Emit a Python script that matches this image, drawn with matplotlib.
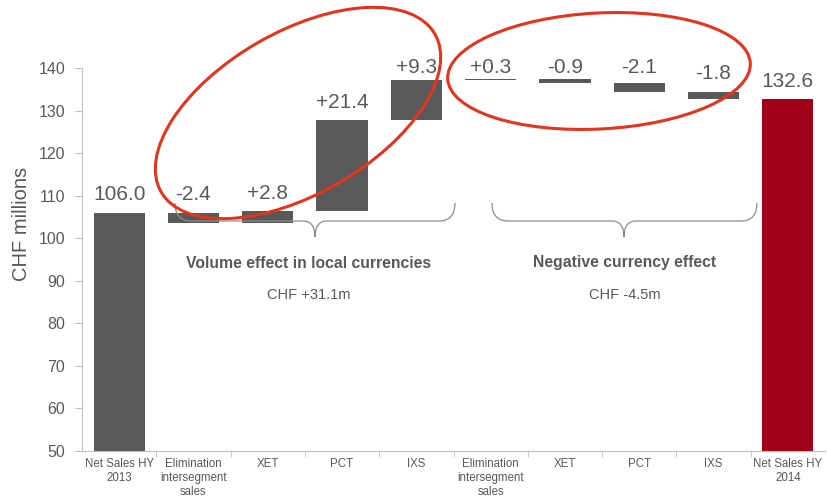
import matplotlib
matplotlib.use("Agg")
import matplotlib.pyplot as plt
import numpy as np
from matplotlib.patches import Ellipse, PathPatch
from matplotlib.path import Path

plt.rcParams['font.family'] = ['Liberation Sans', 'DejaVu Sans']

categories = ["Net Sales HY\n2013", "Elimination\nintersegment\nsales", "XET", "PCT", "IXS",
              "Elimination\nintersegment\nsales", "XET", "PCT", "IXS", "Net Sales HY\n2014"]
changes = [106.0, -2.4, 2.8, 21.4, 9.3, 0.3, -0.9, -2.1, -1.8, 132.6]
value_labels = ["106.0", "-2.4", "+2.8", "+21.4", "+9.3", "+0.3", "-0.9", "-2.1", "-1.8", "132.6"]
group_titles = ["Volume effect in local currencies", "Negative currency effect"]
group_totals = ["CHF +31.1m", "CHF -4.5m"]

GREY = '#595959'
RED = '#a00018'
LINE = '#bfbfbf'
W, H = 827, 498

fig = plt.figure(figsize=(W / 100, H / 100), dpi=100)
ax = fig.add_axes([82 / W, 1 - 451 / H, 743 / W, 383 / H])

# waterfall: first and last are totals, the rest float
x = np.arange(len(changes))
bottoms = []
heights = []
running = 0
for i, v in enumerate(changes):
    if i == 0 or i == len(changes) - 1:
        bottoms.append(0)
        heights.append(v)
        running = v
    else:
        bottoms.append(running if v > 0 else running + v)
        heights.append(abs(v))
        running += v
colors = [GREY] * (len(changes) - 1) + [RED]
ax.bar(x, heights, bottom=bottoms, width=0.69, color=colors, linewidth=0)

for i in range(len(changes)):
    top = bottoms[i] + heights[i]
    ax.text(x[i], min(top + 2.9, 138.9), value_labels[i], ha='center', va='baseline',
            fontsize=15, color=GREY, clip_on=False)

ax.set_xlim(-0.5, len(changes) - 0.5)
ax.set_ylim(50, 140)
ax.set_yticks(np.arange(50, 141, 10))
ax.set_xticks(x)
ax.set_xticklabels(categories)
ax.set_xticks(np.arange(0.5, len(changes) - 1, 1), minor=True)
ax.tick_params(axis='x', which='major', length=0, pad=5, labelsize=8.3, labelcolor=GREY)
ax.tick_params(axis='x', which='minor', length=4, color=LINE, direction='out')
ax.tick_params(axis='y', length=5, color=LINE, labelsize=11.5, labelcolor=GREY, pad=7)
for lbl in ax.get_xticklabels():
    lbl.set_linespacing(1.22)

for s in ['top', 'right']:
    ax.spines[s].set_visible(False)
ax.spines['left'].set_color(LINE)
ax.spines['bottom'].set_color(LINE)

fig.text(22 / W, 1 - 224 / H, "CHF millions", rotation=90, ha='center', va='center',
         fontsize=14.5, color=GREY)


def px(xp, yp):
    return (xp / 100, (H - yp) / 100)


def brace(x0, x1, xm, ytop, yline, ytip, r=16):
    verts = [px(x0, ytop), px(x0, yline), px(x0 + r, yline),
             px(xm - 12, yline), px(xm, yline), px(xm, ytip),
             px(xm, yline), px(xm + 12, yline),
             px(x1 - r, yline), px(x1, yline), px(x1, ytop)]
    codes = [Path.MOVETO, Path.CURVE3, Path.CURVE3,
             Path.LINETO, Path.CURVE3, Path.CURVE3,
             Path.CURVE3, Path.CURVE3,
             Path.LINETO, Path.CURVE3, Path.CURVE3]
    p = PathPatch(Path(verts, codes), fill=False, edgecolor='#8c8c8c', linewidth=0.9,
                  transform=fig.dpi_scale_trans)
    fig.add_artist(p)


brace(175, 455, 315, 203, 221, 237)
brace(492, 757, 624, 203, 221, 237)

for cx, title, total in zip([309, 625], group_titles, group_totals):
    fig.text(cx / W, 1 - 263 / H, title, ha='center', va='center', fontsize=11.3,
             fontweight='bold', color=GREY)
    fig.text(cx / W, 1 - 295 / H, total, ha='center', va='center', fontsize=10.5, color=GREY)

# red highlight ellipses
e1 = Ellipse(px(298, 113), 3.16, 1.62, angle=30, fill=False, edgecolor='#e5341d',
             linewidth=2.2, transform=fig.dpi_scale_trans)
e2 = Ellipse(px(599, 71), 3.03, 1.16, angle=3, fill=False, edgecolor='#e5341d',
             linewidth=2.2, transform=fig.dpi_scale_trans)
fig.add_artist(e1)
fig.add_artist(e2)

fig.savefig("out.png", dpi=100)
